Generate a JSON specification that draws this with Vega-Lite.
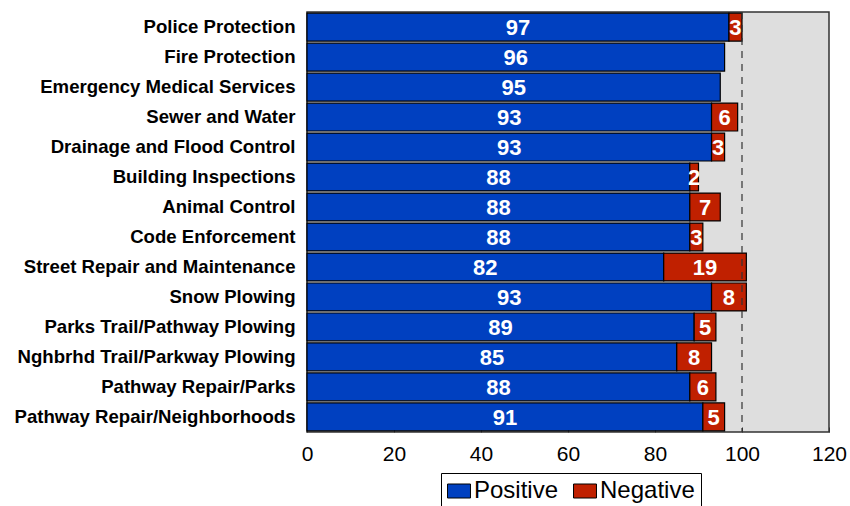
{
  "$schema": "https://vega.github.io/schema/vega-lite/v6.json",
  "width": 522,
  "height": 420,
  "autosize": {"type": "none"},
  "padding": {"left": 307, "top": 12, "right": 21, "bottom": 74},
  "background": "white",
  "config": {
    "font": "Liberation Sans",
    "view": {"fill": "#dedede", "stroke": "#333333", "strokeWidth": 1.5}
  },
  "data": {
    "values": [
      {"service": "Police Protection", "type": "Positive", "value": 97},
      {"service": "Police Protection", "type": "Negative", "value": 3},
      {"service": "Fire Protection", "type": "Positive", "value": 96},
      {"service": "Emergency Medical Services", "type": "Positive", "value": 95},
      {"service": "Sewer and Water", "type": "Positive", "value": 93},
      {"service": "Sewer and Water", "type": "Negative", "value": 6},
      {"service": "Drainage and Flood Control", "type": "Positive", "value": 93},
      {"service": "Drainage and Flood Control", "type": "Negative", "value": 3},
      {"service": "Building Inspections", "type": "Positive", "value": 88},
      {"service": "Building Inspections", "type": "Negative", "value": 2},
      {"service": "Animal Control", "type": "Positive", "value": 88},
      {"service": "Animal Control", "type": "Negative", "value": 7},
      {"service": "Code Enforcement", "type": "Positive", "value": 88},
      {"service": "Code Enforcement", "type": "Negative", "value": 3},
      {"service": "Street Repair and Maintenance", "type": "Positive", "value": 82},
      {"service": "Street Repair and Maintenance", "type": "Negative", "value": 19},
      {"service": "Snow Plowing", "type": "Positive", "value": 93},
      {"service": "Snow Plowing", "type": "Negative", "value": 8},
      {"service": "Parks Trail/Pathway Plowing", "type": "Positive", "value": 89},
      {"service": "Parks Trail/Pathway Plowing", "type": "Negative", "value": 5},
      {"service": "Nghbrhd Trail/Parkway Plowing", "type": "Positive", "value": 85},
      {"service": "Nghbrhd Trail/Parkway Plowing", "type": "Negative", "value": 8},
      {"service": "Pathway Repair/Parks", "type": "Positive", "value": 88},
      {"service": "Pathway Repair/Parks", "type": "Negative", "value": 6},
      {"service": "Pathway Repair/Neighborhoods", "type": "Positive", "value": 91},
      {"service": "Pathway Repair/Neighborhoods", "type": "Negative", "value": 5}
    ]
  },
  "transform": [
    {"stack": "value", "groupby": ["service"], "sort": [{"field": "type", "order": "descending"}], "as": ["v0", "v1"]},
    {"calculate": "(datum.v0 + datum.v1) / 2", "as": "vmid"}
  ],
  "encoding": {
    "y": {
      "field": "service",
      "type": "nominal",
      "sort": null,
      "scale": {"paddingInner": 0.07, "paddingOuter": 0.04},
      "axis": {
        "title": null,
        "labelFontSize": 18.6,
        "labelFontWeight": "bold",
        "labelColor": "black",
        "labelLimit": 400,
        "labelPadding": 12,
        "ticks": false,
        "domain": false
      }
    }
  },
  "layer": [
    {
      "mark": {"type": "bar", "stroke": "black", "strokeWidth": 1.2},
      "encoding": {
        "x": {
          "field": "v0",
          "type": "quantitative",
          "scale": {"domain": [0, 120], "nice": false},
          "axis": {
            "title": null,
            "values": [0, 20, 40, 60, 80, 100, 120],
            "labelFontSize": 21,
            "labelColor": "black",
            "labelFlush": false,
            "labelPadding": 16,
            "tickSize": -5,
            "tickColor": "#333333",
            "grid": false,
            "domain": false
          }
        },
        "x2": {"field": "v1"},
        "color": {
          "field": "type",
          "type": "nominal",
          "scale": {"domain": ["Positive", "Negative"], "range": ["#0040c0", "#c02000"]},
          "legend": {
            "title": null,
            "orient": "none",
            "legendX": 134,
            "legendY": 461,
            "direction": "horizontal",
            "labelFontSize": 24,
            "labelColor": "black",
            "symbolType": "M-1.64,-1H1.64V1H-1.64Z",
            "symbolSize": 196,
            "symbolStrokeColor": "black",
            "symbolStrokeWidth": 1,
            "symbolOpacity": 1,
            "symbolOffset": 0,
            "columnPadding": 12,
            "labelOffset": 3,
            "strokeColor": "black",
            "padding": 6,
            "fillColor": "white"
          }
        }
      }
    },
    {
      "mark": {"type": "text", "color": "white", "fontSize": 22, "fontWeight": "bold", "align": "center", "baseline": "middle", "dy": 1},
      "encoding": {
        "x": {"field": "vmid", "type": "quantitative"},
        "text": {"field": "value", "type": "quantitative"}
      }
    },
    {
      "data": {"values": [{"ref": 100}]},
      "mark": {"type": "rule", "color": "#333333", "strokeDash": [7, 6], "strokeWidth": 1.2},
      "encoding": {"x": {"field": "ref", "type": "quantitative"}, "y": {"value": 0}, "y2": {"value": 420}}
    }
  ]
}
